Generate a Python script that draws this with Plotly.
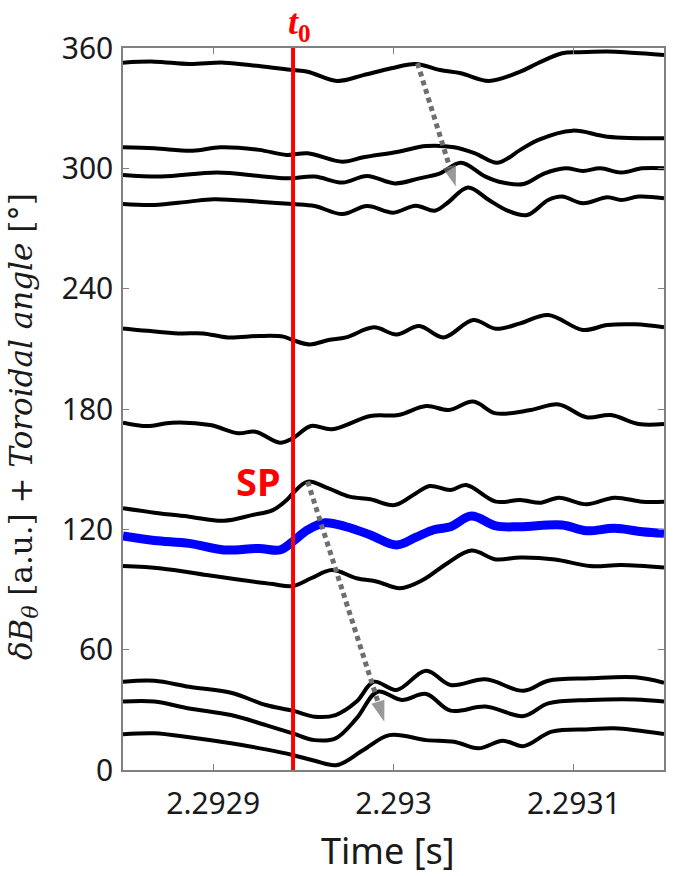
import plotly.graph_objects as go

# ---- data (time in s, value = dB_theta [a.u.] + toroidal angle [deg]) ----
t_a = [2.2928500, 2.2928674, 2.2928867, 2.2929060, 2.2929254, 2.2929441, 2.2929524, 2.2929688, 2.2929833, 2.2929988, 2.2930123, 2.2930258, 2.2930374, 2.2930529, 2.2930703, 2.2930800, 2.2930935, 2.2931031, 2.2931186, 2.2931283, 2.2931500]
v_a = [352.7, 353.2, 352.0, 352.7, 351.0, 349.0, 348.2, 343.6, 346.5, 349.9, 352.0, 349.0, 347.4, 343.6, 348.2, 352.4, 357.4, 357.9, 358.2, 357.9, 356.5]

t_b = [2.2928500, 2.2928674, 2.2928886, 2.2929041, 2.2929254, 2.2929408, 2.2929524, 2.2929717, 2.2929833, 2.2930027, 2.2930181, 2.2930336, 2.2930452, 2.2930577, 2.2930703, 2.2930800, 2.2930993, 2.2931186, 2.2931500]
v_b = [310.5, 310.0, 308.8, 310.5, 309.2, 306.7, 307.5, 303.3, 305.5, 308.3, 311.1, 310.5, 307.5, 302.8, 309.2, 314.1, 318.8, 315.8, 315.0]

t_c = [2.2928500, 2.2928713, 2.2929022, 2.2929254, 2.2929408, 2.2929563, 2.2929717, 2.2929853, 2.2930007, 2.2930143, 2.2930258, 2.2930374, 2.2930510, 2.2930606, 2.2930722, 2.2930838, 2.2930954, 2.2931051, 2.2931147, 2.2931263, 2.2931379, 2.2931500]
v_c = [296.7, 295.9, 297.9, 296.2, 295.0, 295.9, 292.9, 296.2, 292.5, 295.0, 297.5, 302.8, 295.9, 292.9, 292.2, 297.5, 300.0, 298.7, 300.0, 297.9, 300.0, 300.0]

t_d = [2.2928500, 2.2928674, 2.2928867, 2.2929002, 2.2929254, 2.2929441, 2.2929563, 2.2929717, 2.2929853, 2.2929998, 2.2930123, 2.2930229, 2.2930297, 2.2930413, 2.2930529, 2.2930626, 2.2930741, 2.2930858, 2.2930935, 2.2931051, 2.2931186, 2.2931263, 2.2931360, 2.2931500]
v_d = [282.2, 281.7, 283.4, 284.6, 283.4, 282.2, 281.2, 277.2, 281.2, 277.9, 281.4, 278.9, 282.6, 290.5, 284.2, 279.2, 276.7, 284.2, 285.9, 282.6, 285.6, 284.2, 285.9, 285.1]

t_e = [2.2928500, 2.2928635, 2.2928809, 2.2928944, 2.2929080, 2.2929254, 2.2929389, 2.2929441, 2.2929534, 2.2929640, 2.2929737, 2.2929891, 2.2930017, 2.2930143, 2.2930278, 2.2930442, 2.2930568, 2.2930703, 2.2930858, 2.2931051, 2.2931186, 2.2931341, 2.2931500]
v_e = [220.2, 219.0, 217.7, 217.7, 215.7, 216.4, 216.1, 214.4, 212.2, 214.4, 215.7, 220.7, 217.2, 221.4, 215.7, 224.4, 220.0, 222.7, 226.9, 219.4, 221.9, 222.2, 220.7]

t_f = [2.2928500, 2.2928635, 2.2928771, 2.2928983, 2.2929138, 2.2929234, 2.2929370, 2.2929441, 2.2929543, 2.2929659, 2.2929872, 2.2930027, 2.2930181, 2.2930307, 2.2930442, 2.2930568, 2.2930761, 2.2930916, 2.2931070, 2.2931205, 2.2931360, 2.2931500]
v_f = [173.2, 171.5, 173.2, 172.0, 167.9, 168.7, 163.2, 165.4, 171.5, 169.9, 176.5, 177.0, 181.5, 179.5, 183.7, 177.8, 179.5, 182.3, 175.9, 177.0, 172.5, 172.5]

t_g = [2.2928500, 2.2928674, 2.2928867, 2.2929060, 2.2929215, 2.2929331, 2.2929408, 2.2929441, 2.2929524, 2.2929640, 2.2929756, 2.2929872, 2.2930007, 2.2930123, 2.2930201, 2.2930316, 2.2930403, 2.2930568, 2.2930703, 2.2930819, 2.2930916, 2.2931070, 2.2931225, 2.2931379, 2.2931500]
v_g = [130.5, 128.3, 126.3, 124.3, 127.1, 129.6, 134.6, 137.9, 143.8, 140.4, 136.3, 135.0, 132.1, 137.9, 141.6, 139.6, 142.1, 133.8, 134.6, 133.3, 135.8, 132.5, 135.8, 133.8, 133.8]

t_h = [2.2928500, 2.2928674, 2.2928867, 2.2929060, 2.2929254, 2.2929370, 2.2929441, 2.2929524, 2.2929621, 2.2929737, 2.2929872, 2.2930017, 2.2930123, 2.2930220, 2.2930316, 2.2930432, 2.2930568, 2.2930703, 2.2930935, 2.2931070, 2.2931225, 2.2931379, 2.2931500]
v_h = [116.7, 114.4, 113.0, 109.7, 110.5, 109.7, 113.9, 119.7, 123.3, 121.3, 117.2, 112.2, 116.0, 119.7, 121.3, 126.6, 121.7, 121.3, 122.2, 119.3, 120.5, 118.8, 118.0]

t_i = [2.2928500, 2.2928713, 2.2928964, 2.2929157, 2.2929331, 2.2929441, 2.2929543, 2.2929659, 2.2929795, 2.2929911, 2.2930036, 2.2930162, 2.2930297, 2.2930432, 2.2930568, 2.2930703, 2.2930896, 2.2931089, 2.2931263, 2.2931500]
v_i = [101.7, 100.5, 97.2, 94.7, 92.7, 91.7, 95.6, 99.7, 95.6, 93.9, 90.6, 94.7, 103.0, 109.4, 105.0, 106.0, 105.0, 101.7, 102.2, 101.0]

t_j = [2.2928500, 2.2928674, 2.2928867, 2.2929099, 2.2929292, 2.2929441, 2.2929563, 2.2929679, 2.2929795, 2.2929891, 2.2930017, 2.2930181, 2.2930316, 2.2930510, 2.2930722, 2.2930858, 2.2931089, 2.2931341, 2.2931500]
v_j = [44.0, 44.5, 41.5, 38.5, 32.4, 29.6, 26.6, 27.4, 34.1, 44.0, 39.9, 49.5, 42.4, 45.2, 39.5, 44.5, 45.7, 46.2, 43.5]

t_k = [2.2928500, 2.2928674, 2.2928867, 2.2929099, 2.2929292, 2.2929441, 2.2929563, 2.2929679, 2.2929795, 2.2929911, 2.2930046, 2.2930181, 2.2930316, 2.2930510, 2.2930722, 2.2930858, 2.2931089, 2.2931341, 2.2931500]
v_k = [34.1, 34.1, 30.7, 27.4, 22.4, 18.3, 14.9, 15.8, 25.7, 39.0, 34.9, 37.9, 29.6, 31.6, 26.9, 33.2, 34.9, 35.2, 34.1]

t_l = [2.2928500, 2.2928674, 2.2928867, 2.2929099, 2.2929292, 2.2929441, 2.2929563, 2.2929688, 2.2929833, 2.2929978, 2.2930181, 2.2930336, 2.2930471, 2.2930606, 2.2930722, 2.2930877, 2.2931089, 2.2931225, 2.2931500]
v_l = [17.8, 18.3, 16.3, 13.3, 10.3, 7.5, 4.6, 2.5, 10.0, 17.4, 14.9, 14.1, 10.8, 14.6, 11.9, 19.1, 20.3, 20.8, 17.9]

t0 = 2.2929443

# arrows (start, end) in data units
arrow_top_t = [2.2930133, 2.2930345]
arrow_top_v = [352.4, 290.9]
arrow_bot_t = [2.2929524, 2.2929949]
arrow_bot_v = [143.8, 24.1]

x_ticks = [2.2929, 2.2930, 2.2931]
x_tick_text = ["2.2929", "2.293", "2.2931"]
y_ticks = [0, 60, 120, 180, 240, 300, 360]

# ---- figure ----
fig = go.Figure()

black_sets = [(t_a, v_a), (t_b, v_b), (t_c, v_c), (t_d, v_d), (t_e, v_e), (t_f, v_f),
              (t_g, v_g), (t_i, v_i), (t_j, v_j), (t_k, v_k), (t_l, v_l)]
for tt, vv in black_sets:
    fig.add_trace(go.Scatter(x=tt, y=vv, mode="lines",
                             line=dict(color="black", width=4, shape="spline", smoothing=1.0),
                             showlegend=False, hoverinfo="skip"))

fig.add_trace(go.Scatter(x=t_h, y=v_h, mode="lines",
                         line=dict(color="#0000ff", width=9, shape="spline", smoothing=1.0),
                         showlegend=False, hoverinfo="skip"))

for at, av in [(arrow_top_t, arrow_top_v), (arrow_bot_t, arrow_bot_v)]:
    fig.add_trace(go.Scatter(x=at, y=av, mode="lines+markers",
                             line=dict(color="#6e6e6e", width=5, dash="5px,4px"),
                             marker=dict(symbol="arrow", size=[0, 22], angleref="previous",
                                         color="#6e6e6e", line=dict(width=0)),
                             showlegend=False, hoverinfo="skip"))

fig.add_vline(x=t0, line=dict(color="#ff0000", width=4), layer="above")

axis_common = dict(showline=True, linecolor="#808080", linewidth=1.5, mirror="ticks",
                   ticks="inside", ticklen=6, tickcolor="#808080", tickwidth=1,
                   showgrid=False, zeroline=False,
                   tickfont=dict(family="Noto Sans", size=30, color="#1a1a1a"))

fig.update_xaxes(range=[2.29285, 2.29315], tickvals=x_ticks, ticktext=x_tick_text,
                 ticklabelstandoff=6, **axis_common)
fig.update_yaxes(range=[0, 360], tickvals=y_ticks, ticklabelstandoff=2, **axis_common)

fig.add_annotation(text="Time [s]", xref="paper", yref="paper", x=0.49, y=0,
                   yshift=-80, xanchor="center", yanchor="middle", showarrow=False,
                   font=dict(family="Noto Sans", size=36, color="#1a1a1a"))

ytitle = "<i>δB<sub>θ</sub></i> [a.u.] + <i>Toroidal angle</i> [°]"
fig.add_annotation(text=ytitle,
                   xref="paper", yref="paper", x=0, y=0.475, xshift=-100,
                   xanchor="center", yanchor="middle", textangle=-90, showarrow=False,
                   font=dict(family="DejaVu Serif", size=31, color="#1a1a1a"))

fig.add_annotation(text="<b><i>t</i><sub>0</sub></b>", x=t0, xref="x", y=1, yref="paper",
                   yanchor="middle", xanchor="center", xshift=6, yshift=24, showarrow=False,
                   font=dict(family="Liberation Serif", size=36, color="#ff0000"))

fig.add_annotation(text="<b>SP</b>", x=t0, xref="x", y=144, yref="y",
                   xanchor="right", yanchor="middle", xshift=-10, showarrow=False,
                   font=dict(family="Noto Sans", size=38, color="#ff0000"))

fig.update_layout(width=675, height=876, margin=dict(l=123, r=9, t=48, b=106),
                  paper_bgcolor="white", plot_bgcolor="white", showlegend=False)

fig.write_html("out.html", config=dict(displayModeBar=False),
               post_script="document.body.style.margin='0px';")
